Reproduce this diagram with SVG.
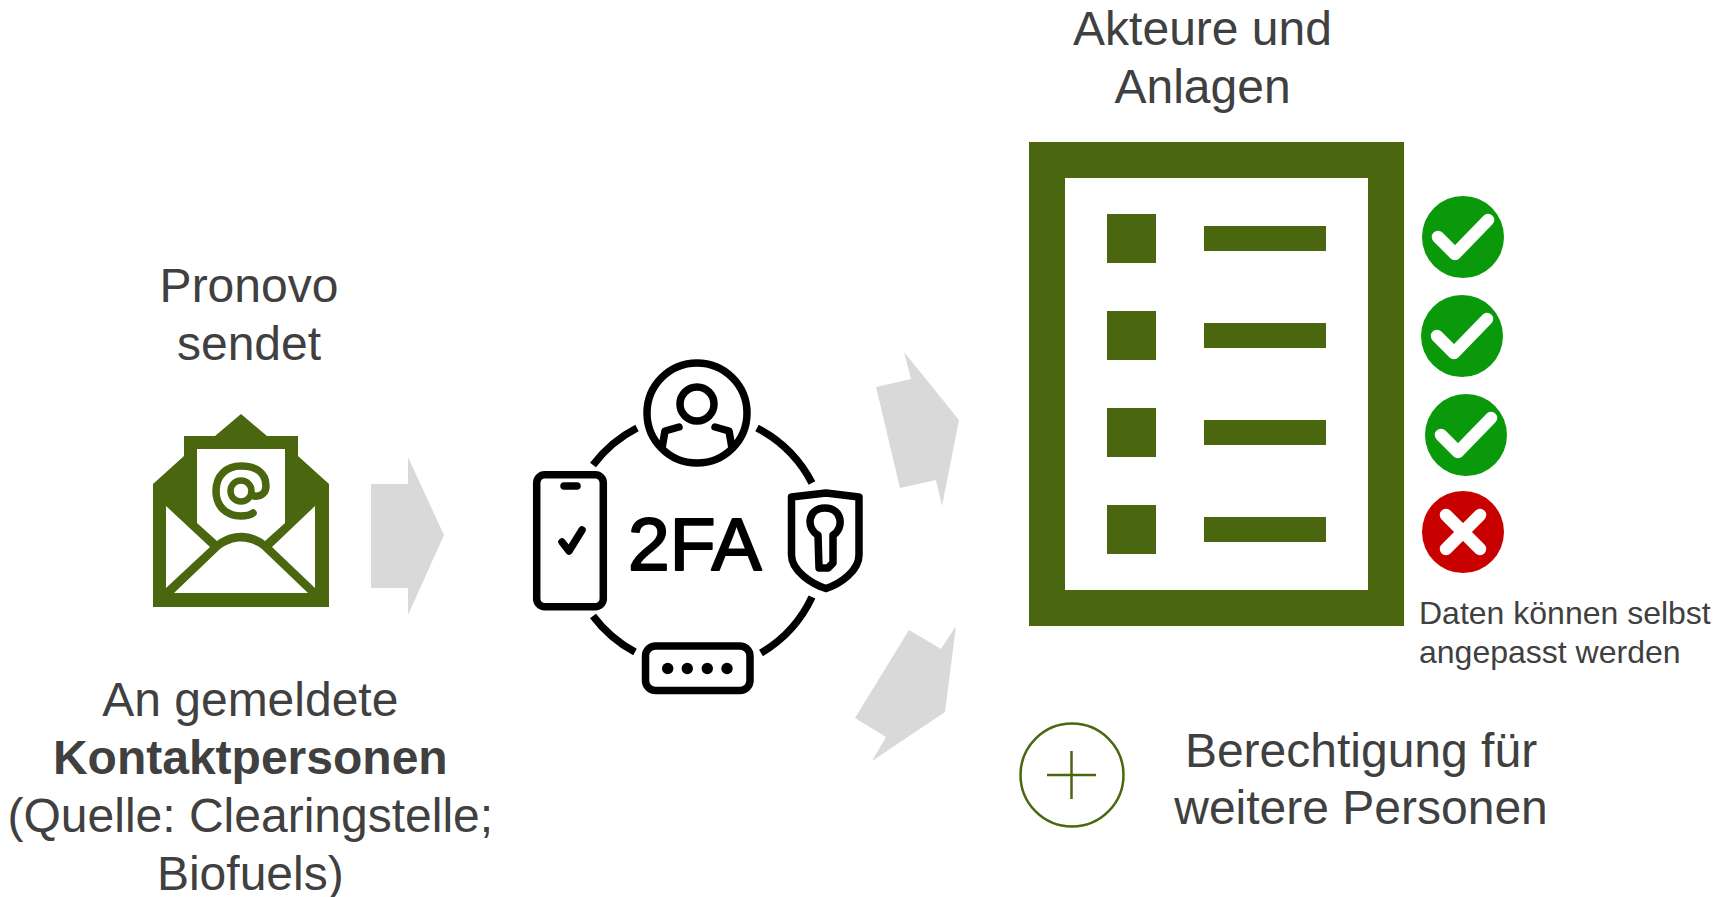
<svg xmlns="http://www.w3.org/2000/svg" width="1716" height="897" viewBox="0 0 1716 897">
<style>
text{font-family:"Liberation Sans",Arial,sans-serif;fill:#404040}
.l{font-size:48px;text-anchor:middle}
.s{font-size:32px}
.g{fill:#4a670f}
.w{fill:#fff}
.a{fill:#d9d9d9}
.k{fill:none;stroke:#000;stroke-width:7.5;stroke-linecap:round;stroke-linejoin:round}
.b{fill:none;stroke:#000;stroke-width:7.5}
.c{fill:none;stroke:#fff;stroke-width:12.5;stroke-linecap:round;stroke-linejoin:round}
</style>
<rect width="1716" height="897" fill="#fff"/>
<g id="label-pronovo"><text class="l" x="249" y="302">Pronovo</text><text class="l" x="249" y="360">sendet</text></g>
<g id="envelope">
<path class="g" d="M153 484L184 456V436H215L241 414L267 436H298V456L329 484V607H153Z"/>
<path class="w" d="M197 449H285V523L265 541C250 530 232 530 217 541L197 523Z"/>
<path class="w" d="M166 506L210 547L166 588Z"/>
<path class="w" d="M315 506L272 547L315 588Z"/>
<path class="w" d="M174 593L220 549C233 539 249 539 262 549L308 593Z"/>
<path d="M254 496C262 497 266 492 266 486C266 472 255 466 241 466C226 466 216 476 216 491C216 506 226 516 241 516C244 516 249 516 253 513" fill="none" stroke="#4a670f" stroke-width="7.500" stroke-linecap="round"/>
<circle cx="241" cy="491" r="10.500" fill="none" stroke="#4a670f" stroke-width="6.500"/>
<path d="M251 491C251 493 251 496 256 496" fill="none" stroke="#4a670f" stroke-width="6.500"/>
</g>
<g id="connectors">
<path class="a" d="M371 484H408V457L444 535L408 615V588H371Z"/>
<path class="a" d="M876 387L911 379L904 352L959 420L942 506L936 480L900 488Z"/>
<path class="a" d="M909 630L941 649L956 626L945 712L872 761L886 737L855 718Z"/>
</g>
<g id="two-factor">
<path class="b" d="M593 465A128 128 0 0 1 637 428M757 428A128 128 0 0 1 812 483M812 597A128 128 0 0 1 761 653M635 652A128 128 0 0 1 593 616"/>
<circle class="b" cx="697" cy="413" r="50"/>
<circle class="b" cx="697" cy="404" r="17"/>
<path class="k" d="M679 427L665 431L662 448M715 427L729 431L732 448"/>
<rect class="k" x="536.700" y="474.700" width="66.600" height="132" rx="8"/>
<path class="k" d="M564 486H577"/>
<path class="k" d="M562 542L569 551L582 530"/>
<text x="628" y="569.500" font-size="75" style="fill:#000;stroke:#000;stroke-width:2;stroke-linejoin:round">2FA</text>
<path class="k" d="M791.500 497L826 493L859 497V555C859 571 840 584 826 588.500C812 584 791.500 571 791.500 555Z"/>
<path class="k" d="M818 535C806 529 807 508 825 508C843 508 844 529 833 535V563L828 568H819Z"/>
<rect class="k" x="645.500" y="646" width="104.500" height="44.500" rx="10"/>
<g fill="#000"><circle cx="667.700" cy="668.500" r="5.700"/><circle cx="687.300" cy="668.500" r="5.700"/><circle cx="707.300" cy="668.500" r="5.700"/><circle cx="727" cy="668.500" r="5.700"/></g>
</g>
<g id="label-kontakt">
<text class="l" x="250.300" y="716">An gemeldete</text>
<text class="l" x="250.300" y="774" font-weight="700">Kontaktpersonen</text>
<text class="l" x="250.300" y="832">(Quelle: Clearingstelle;</text>
<text class="l" x="250.300" y="890">Biofuels)</text>
</g>
<g id="label-akteure"><text class="l" x="1202.500" y="45">Akteure und</text><text class="l" x="1202.500" y="102.500">Anlagen</text></g>
<g id="list">
<path class="g" fill-rule="evenodd" d="M1029 142H1404V626H1029ZM1065 178V590H1368V178Z"/>
<g class="g">
<rect x="1107" y="214" width="49" height="49"/><rect x="1204" y="226" width="122" height="25"/>
<rect x="1107" y="311" width="49" height="49"/><rect x="1204" y="323" width="122" height="25"/>
<rect x="1107" y="408" width="49" height="49"/><rect x="1204" y="420" width="122" height="25"/>
<rect x="1107" y="505" width="49" height="49"/><rect x="1204" y="517" width="122" height="25"/>
</g>
</g>
<g id="check-1"><circle cx="1463" cy="237" r="41" fill="#0a990a"/><path class="c" d="M1438 237L1455 254L1488 220"/></g>
<g id="check-2"><circle cx="1462" cy="336" r="41" fill="#0a990a"/><path class="c" d="M1437 336L1454 353L1487 319"/></g>
<g id="check-3"><circle cx="1466" cy="435" r="41" fill="#0a990a"/><path class="c" d="M1441 435L1458 452L1491 418"/></g>
<g id="cross"><circle cx="1463" cy="532" r="41" fill="#c80000"/><path class="c" d="M1446 515L1480 549M1480 515L1446 549"/></g>
<g id="label-daten"><text class="s" x="1419" y="624">Daten können selbst</text><text class="s" x="1419" y="663">angepasst werden</text></g>
<g id="plus"><circle cx="1072" cy="775" r="51.500" fill="none" stroke="#4a670f" stroke-width="2.500"/><path d="M1047 775H1096M1071.500 751V799" fill="none" stroke="#4a670f" stroke-width="2.500"/></g>
<g id="label-berechtigung"><text class="l" x="1361" y="767">Berechtigung für</text><text class="l" x="1361" y="824">weitere Personen</text></g>
</svg>
